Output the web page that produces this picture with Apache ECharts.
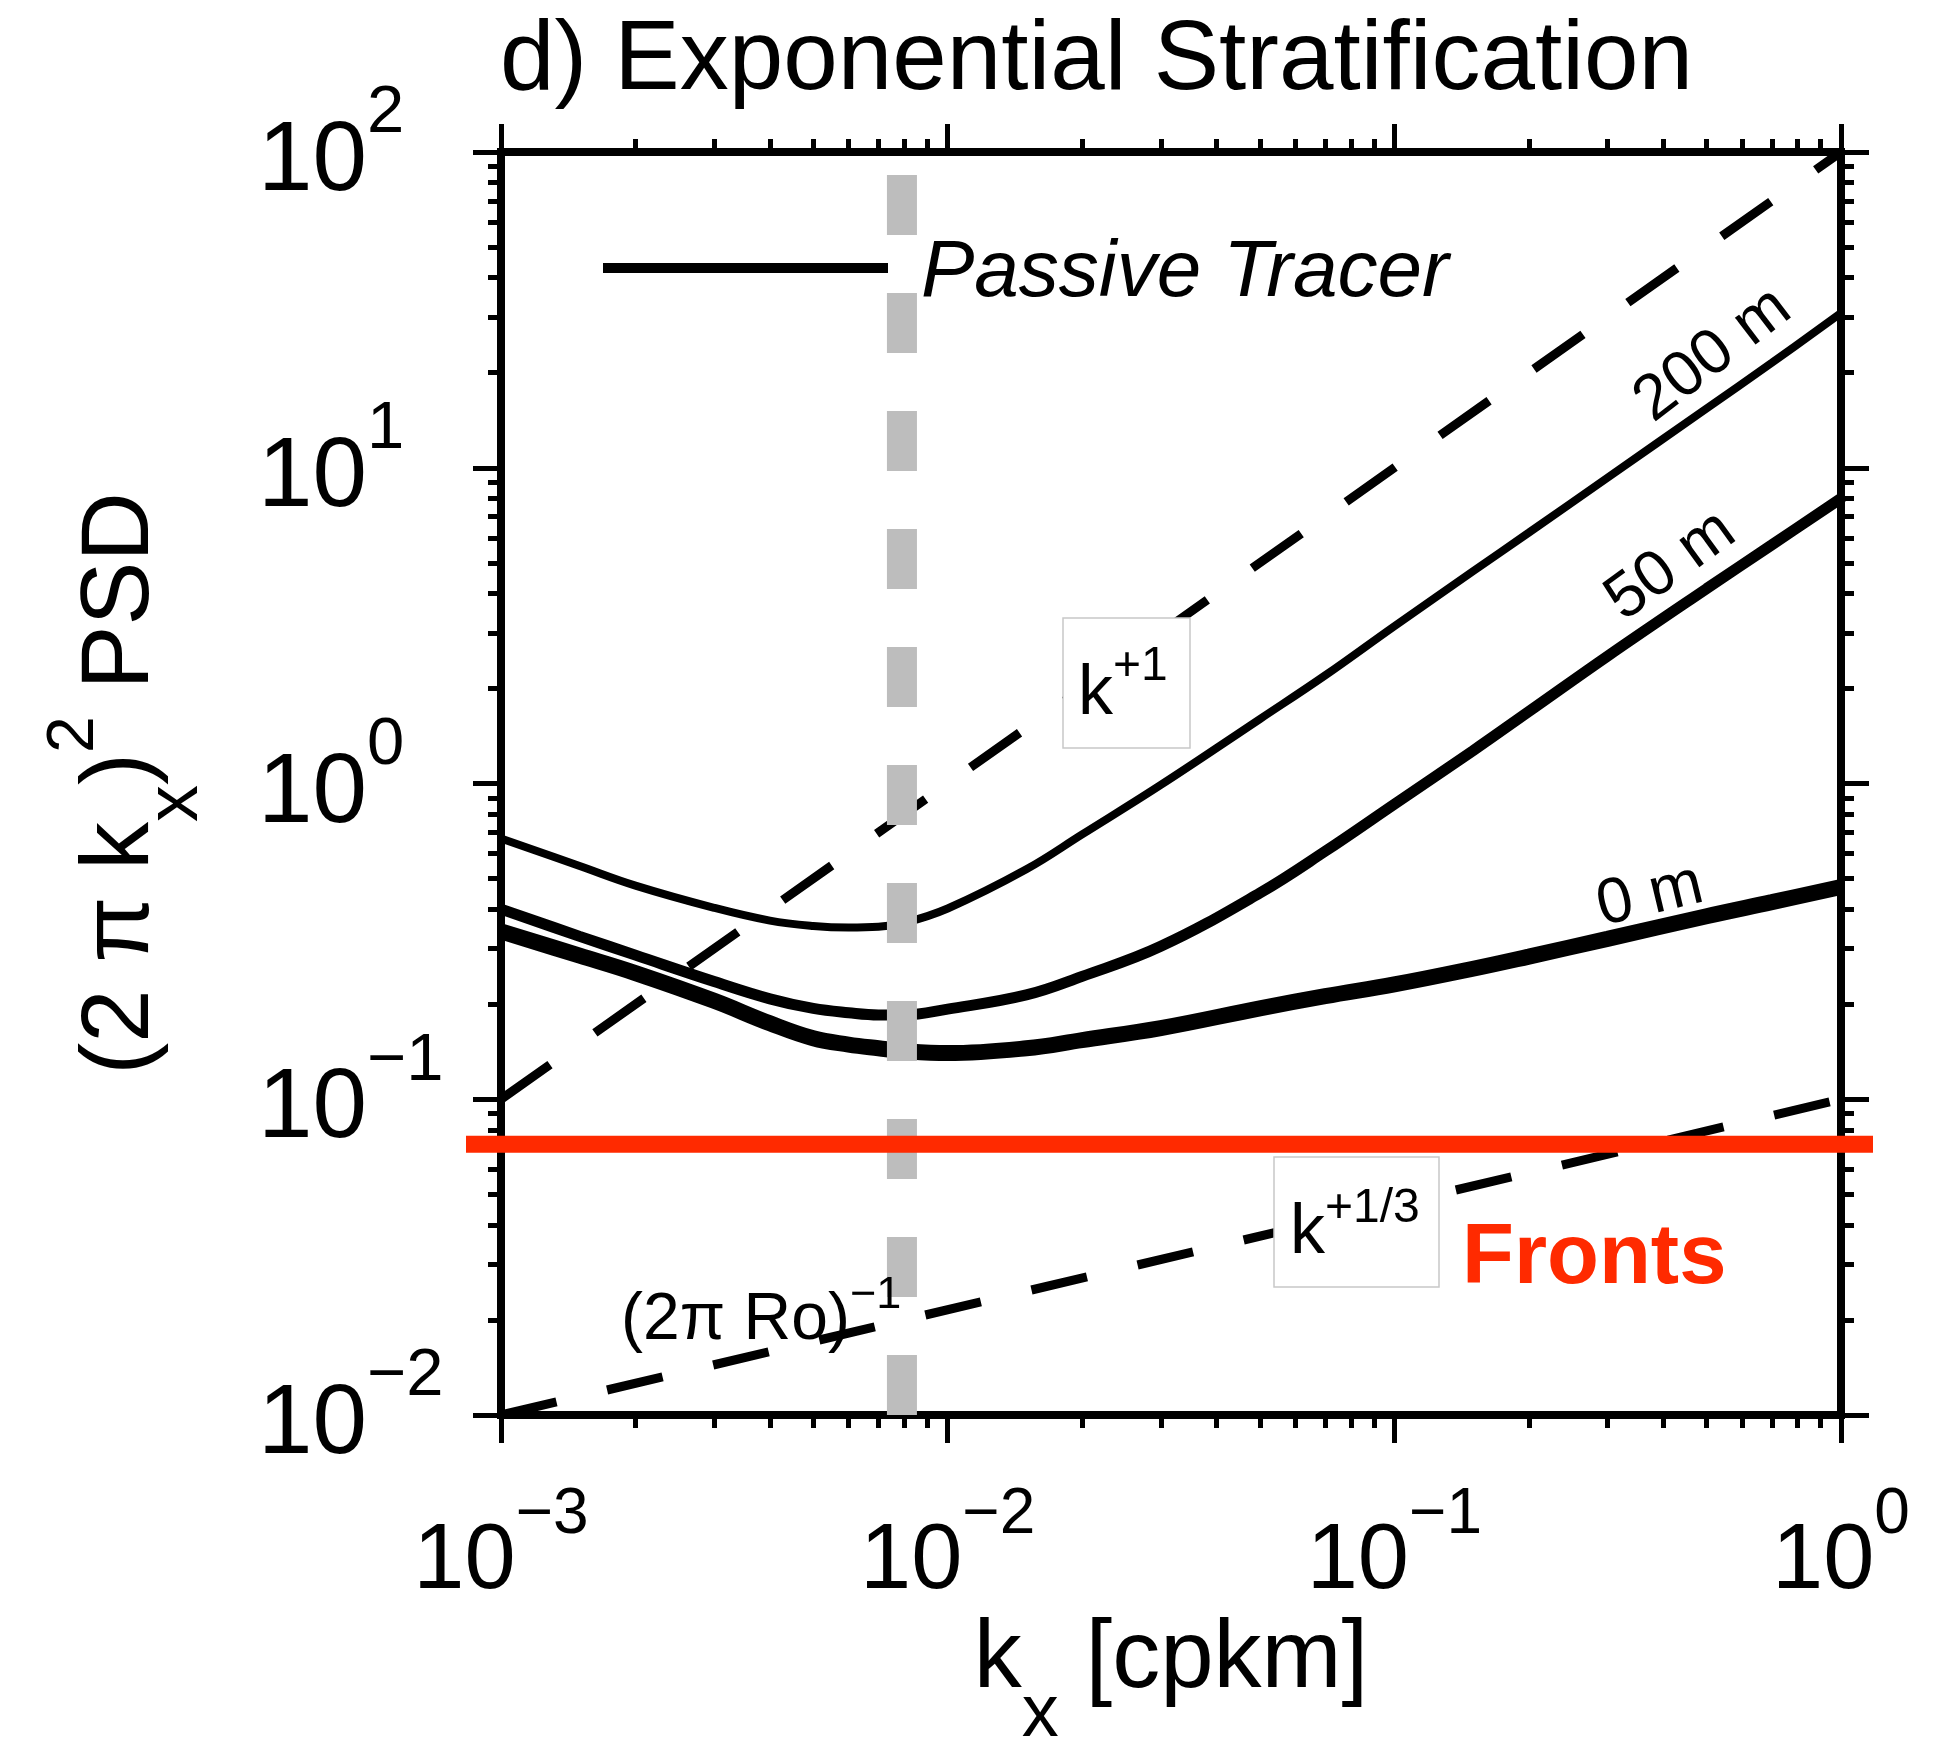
<!DOCTYPE html>
<html><head><meta charset="utf-8">
<script src="https://cdn.jsdelivr.net/npm/echarts@6/dist/echarts.min.js"></script>
<style>html,body{margin:0;padding:0;background:#fff}#c{width:1942px;height:1740px}</style>
</head><body><div id="c"></div>
<script>
const FONT = '"Liberation Sans", Arial, Helvetica, sans-serif';

// horizontal wavenumber samples [cpkm]
const kx = [0.001, 0.0015, 0.002, 0.003, 0.004, 0.005, 0.006, 0.007, 0.008, 0.01, 0.015, 0.02, 0.03, 0.05, 0.07, 0.1, 0.15, 0.2, 0.3, 0.5, 0.7, 1.0];
// (2 pi kx)^2 PSD of the passive tracer at three depths
const psd200m = [0.67, 0.548, 0.475, 0.404, 0.368, 0.354, 0.350, 0.352, 0.362, 0.402, 0.535, 0.69, 0.99, 1.6, 2.2, 3.15, 4.7, 6.23, 9.3, 15.4, 21.5, 30.9];
const psd50m  = [0.40, 0.328, 0.286, 0.236, 0.208, 0.194, 0.188, 0.185, 0.185, 0.193, 0.214, 0.245, 0.305, 0.45, 0.61, 0.86, 1.27, 1.69, 2.53, 4.14, 5.70, 8.0];
const psd0m   = [0.34, 0.285, 0.251, 0.205, 0.174, 0.156, 0.149, 0.145, 0.142, 0.14, 0.145, 0.154, 0.168, 0.194, 0.212, 0.231, 0.259, 0.283, 0.322, 0.38, 0.421, 0.47];

// reference slopes k^+1 and k^+1/3
const slope1X  = [0.001, 1];
const slope1Y  = [0.1, 100];
const slope13X = [0.001, 1];
const slope13Y = [0.01, 0.1];

// fronts threshold (red line, runs a little past the frame on both sides)
const frontsX = [0.000835, 1.18];
const frontsY = [0.072, 0.072];

// (2 pi Ro)^-1 wavenumber (grey dashed)
const roX = [0.0079, 0.0079];
const roY = [0.01, 100];

// tick labels (exponents of 10)
const xTickExponents = ['\u22123', '\u22122', '\u22121', '0'];
const yTickExponents = ['\u22122', '\u22121', '0', '1', '2'];
const xMinExp = -3, xMaxExp = 0, yMinExp = -2, yMaxExp = 2;
const minorMantissas = [2, 3, 4, 5, 6, 7, 8, 9];

function minorLogs(e0, e1) {
  const out = [];
  for (let d = e0; d < e1; d++) for (const m of minorMantissas) out.push(d + Math.log10(m));
  return out;
}
const xMinor = minorLogs(xMinExp, xMaxExp);
const yMinor = minorLogs(yMinExp, yMaxExp);

const pairs = (xs, ys) => xs.map((x, i) => [x, ys[i]]);

const black = '#000';
const lineAxis = { show: true, onZero: false, lineStyle: { color: black, width: 8, cap: 'square' } };
const majorTick = { show: true, length: 28, lineStyle: { color: black, width: 5 } };
const minorTickStyle = (vals) => ({ show: true, customValues: vals, length: 13, lineStyle: { color: black, width: 5 } });

const xTickRich = {
  b: { fontSize: 92, lineHeight: 140, fontFamily: FONT, color: black, verticalAlign: 'middle' },
  s: { fontSize: 64, verticalAlign: 'top', height: 44, fontFamily: FONT, color: black }
};
const yTickRich = {
  b: { fontSize: 98, lineHeight: 140, fontFamily: FONT, color: black, verticalAlign: 'middle' },
  s: { fontSize: 67, verticalAlign: 'top', height: 42, fontFamily: FONT, color: black }
};
const hiddenAxis = { show: false, axisLine: { show: false, onZero: false }, axisTick: { show: false }, axisLabel: { show: false }, splitLine: { show: false } };

const option = {
  animation: false,
  backgroundColor: '#fff',
  grid: [
    { left: 501, top: 152, width: 1340, height: 1263, containLabel: false, outerBoundsMode: 'none' },
    // same vertical frame, wider horizontally, carries the fronts line past the frame
    { left: 466, top: 152, width: 1407, height: 1263, containLabel: false, outerBoundsMode: 'none' }
  ],
  legend: {
    // icon: a 10px bar in the upper part of a 22px-high item, so the label sits slightly below the bar
    data: [{ name: '200 m', icon: 'path://M0,0H285V10H0Z M0,22L0.01,22' }],
    formatter: () => 'Passive Tracer',
    left: 603, top: 234, padding: 0,
    itemWidth: 285, itemHeight: 22, selectedMode: false, symbolKeepAspect: false,
    textStyle: { fontFamily: FONT, fontStyle: 'italic', fontSize: 80, color: black, padding: [0, 0, 0, 28] }
  },
  xAxis: [
    {
      type: 'log', logBase: 10, position: 'bottom', min: 1e-3, max: 1,
      axisLine: lineAxis, axisTick: majorTick, splitLine: { show: false },
      axisLabel: {
        margin: 78,
        formatter: (v) => '{b|10}{s|' + xTickExponents[Math.round(Math.log10(v)) - xMinExp] + '}',
        rich: xTickRich
      },
      name: '{b|k}{sub|x}{b| [cpkm]}', nameLocation: 'middle', nameGap: 156, nameMoveOverlap: false,
      nameTextStyle: {
        fontFamily: FONT, fontSize: 96, color: black,
        rich: {
          b: { fontSize: 96, lineHeight: 180, fontFamily: FONT, color: black, verticalAlign: 'middle' },
          sub: { fontSize: 74, verticalAlign: 'bottom', height: 70, fontFamily: FONT, color: black }
        }
      }
    },
    { type: 'log', logBase: 10, position: 'top', min: 1e-3, max: 1, axisLine: lineAxis, axisTick: majorTick, axisLabel: { show: false }, splitLine: { show: false } },
    { type: 'value', position: 'bottom', min: xMinExp, max: xMaxExp, axisLine: { show: false, onZero: false }, axisTick: minorTickStyle(xMinor), axisLabel: { show: false }, splitLine: { show: false } },
    { type: 'value', position: 'top', min: xMinExp, max: xMaxExp, axisLine: { show: false, onZero: false }, axisTick: minorTickStyle(xMinor), axisLabel: { show: false }, splitLine: { show: false } },
    Object.assign({ type: 'log', logBase: 10, gridIndex: 1, min: frontsX[0], max: frontsX[1] }, hiddenAxis)
  ],
  yAxis: [
    {
      type: 'log', logBase: 10, position: 'left', min: 1e-2, max: 1e2,
      axisLine: lineAxis, axisTick: majorTick, splitLine: { show: false },
      axisLabel: {
        margin: 243, align: 'left', padding: [22, 0, 0, 0],
        formatter: (v) => '{b|10}{s|' + yTickExponents[Math.round(Math.log10(v)) - yMinExp] + '}',
        rich: yTickRich
      },
      name: '{b|(2 \u03c0 k}{sub|x}{b|)}{sup|2}{b| PSD}', nameLocation: 'middle', nameGap: 289, nameMoveOverlap: false,
      nameTextStyle: {
        fontFamily: FONT, fontSize: 96, color: black,
        rich: {
          b: { fontSize: 96, lineHeight: 180, fontFamily: FONT, color: black, verticalAlign: 'middle' },
          sub: { fontSize: 74, verticalAlign: 'bottom', height: 70, fontFamily: FONT, color: black },
          sup: { fontSize: 66, verticalAlign: 'top', height: 86, fontFamily: FONT, color: black }
        }
      }
    },
    { type: 'log', logBase: 10, position: 'right', min: 1e-2, max: 1e2, axisLine: lineAxis, axisTick: majorTick, axisLabel: { show: false }, splitLine: { show: false } },
    { type: 'value', position: 'left', min: yMinExp, max: yMaxExp, axisLine: { show: false, onZero: false }, axisTick: minorTickStyle(yMinor), axisLabel: { show: false }, splitLine: { show: false } },
    { type: 'value', position: 'right', min: yMinExp, max: yMaxExp, axisLine: { show: false, onZero: false }, axisTick: minorTickStyle(yMinor), axisLabel: { show: false }, splitLine: { show: false } },
    Object.assign({ type: 'log', logBase: 10, gridIndex: 1, min: 1e-2, max: 1e2 }, hiddenAxis)
  ],
  series: [
    { name: 'k^+1', type: 'line', data: pairs(slope1X, slope1Y), symbol: 'none', silent: true, z: 2,
      lineStyle: { color: black, width: 9, type: [60, 55] } },
    { name: 'k^+1/3', type: 'line', data: pairs(slope13X, slope13Y), symbol: 'none', silent: true, z: 2,
      lineStyle: { color: black, width: 9, type: [57, 52] } },
    { name: '200 m', type: 'line', data: pairs(kx, psd200m), symbol: 'none', smooth: 0.4, silent: true, z: 3,
      color: black, itemStyle: { color: black }, lineStyle: { color: black, width: 8 } },
    { name: '50 m', type: 'line', data: pairs(kx, psd50m), symbol: 'none', smooth: 0.4, silent: true, z: 3,
      color: black, itemStyle: { color: black }, lineStyle: { color: black, width: 11 } },
    { name: '0 m', type: 'line', data: pairs(kx, psd0m), symbol: 'none', smooth: 0.4, silent: true, z: 3,
      color: black, itemStyle: { color: black }, lineStyle: { color: black, width: 16 } },
    { name: '(2\u03c0 Ro)^-1', type: 'line', data: pairs(roX, roY), symbol: 'none', silent: true, z: 4,
      lineStyle: { color: '#bdbdbd', width: 30, type: [60, 58] } },
    { name: 'Fronts', type: 'line', xAxisIndex: 4, yAxisIndex: 4, data: pairs(frontsX, frontsY), symbol: 'none', silent: true, z: 5,
      lineStyle: { color: '#ff2a00', width: 17 } }
  ],
  graphic: { elements: [
    { type: 'text', x: 500, y: 62, z: 20,
      style: { text: 'd) Exponential Stratification', fontFamily: FONT, fontSize: 98, fill: black, align: 'left', textAlign: 'left', verticalAlign: 'middle', textVerticalAlign: 'middle' } },
    { type: 'text', x: 1713, y: 355, rotation: 37.5 * Math.PI / 180, z: 20,
      style: { text: '200 m', fontFamily: FONT, fontSize: 64, fill: black, align: 'center', textAlign: 'center', verticalAlign: 'middle', textVerticalAlign: 'middle' } },
    { type: 'text', x: 1671, y: 566, rotation: 36 * Math.PI / 180, z: 20,
      style: { text: '50 m', fontFamily: FONT, fontSize: 64, fill: black, align: 'center', textAlign: 'center', verticalAlign: 'middle', textVerticalAlign: 'middle' } },
    { type: 'text', x: 1650, y: 896, rotation: 13.5 * Math.PI / 180, z: 20,
      style: { text: '0 m', fontFamily: FONT, fontSize: 64, fill: black, align: 'center', textAlign: 'center', verticalAlign: 'middle', textVerticalAlign: 'middle' } },
    { type: 'rect', shape: { x: 1063, y: 618, width: 127, height: 130 }, z: 20,
      style: { fill: '#fff', stroke: '#c8c8c8', lineWidth: 1.5 } },
    { type: 'text', x: 1078, y: 695, z: 21,
      style: { text: '{b|k}{s|+1}', align: 'left', textAlign: 'left', verticalAlign: 'middle', textVerticalAlign: 'middle',
        rich: { b: { fontSize: 70, lineHeight: 100, fontFamily: FONT, fill: black, verticalAlign: 'middle' },
                s: { fontSize: 48, verticalAlign: 'top', height: 43, fontFamily: FONT, fill: black } } } },
    { type: 'rect', shape: { x: 1274, y: 1157, width: 165, height: 130 }, z: 20,
      style: { fill: '#fff', stroke: '#c8c8c8', lineWidth: 1.5 } },
    { type: 'text', x: 1290, y: 1234, z: 21,
      style: { text: '{b|k}{s|+1/3}', align: 'left', textAlign: 'left', verticalAlign: 'middle', textVerticalAlign: 'middle',
        rich: { b: { fontSize: 70, lineHeight: 100, fontFamily: FONT, fill: black, verticalAlign: 'middle' },
                s: { fontSize: 48, verticalAlign: 'top', height: 49, fontFamily: FONT, fill: black } } } },
    { type: 'text', x: 621, y: 1321, z: 21,
      style: { text: '{b|(2\u03c0 Ro)}{s|\u22121}', align: 'left', textAlign: 'left', verticalAlign: 'middle', textVerticalAlign: 'middle',
        rich: { b: { fontSize: 66, lineHeight: 100, fontFamily: FONT, fill: black, verticalAlign: 'middle' },
                s: { fontSize: 45, verticalAlign: 'top', height: 50, fontFamily: FONT, fill: black } } } },
    { type: 'text', x: 1462, y: 1260, z: 21,
      style: { text: 'Fronts', fontFamily: FONT, fontSize: 85, fontWeight: 'bold', fill: '#ff2a00', align: 'left', textAlign: 'left', verticalAlign: 'middle', textVerticalAlign: 'middle' } }
  ] }
};

const chart = echarts.init(document.getElementById('c'), null, { renderer: 'canvas' });
chart.setOption(option);
</script></body></html>
